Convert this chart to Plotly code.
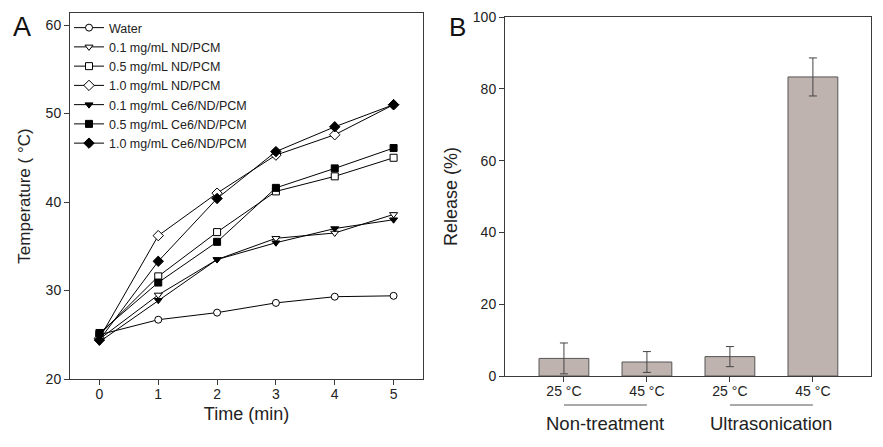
import plotly.graph_objects as go

# ---------- Data: panel A ----------
time_min = [0, 1, 2, 3, 4, 5]
water = [25.0, 26.7, 27.5, 28.6, 29.3, 29.4]
nd01 = [24.5, 29.5, 33.5, 35.9, 36.5, 38.6]
nd05 = [25.0, 31.6, 36.6, 41.2, 42.9, 45.0]
nd10 = [24.6, 36.2, 41.0, 45.3, 47.6, 51.0]
ce01 = [24.2, 28.9, 33.5, 35.4, 37.0, 38.0]
ce05 = [25.2, 30.9, 35.5, 41.6, 43.8, 46.1]
ce10 = [24.4, 33.3, 40.4, 45.7, 48.5, 51.0]

series_names = ["Water", "0.1 mg/mL ND/PCM", "0.5 mg/mL ND/PCM", "1.0 mg/mL ND/PCM",
                "0.1 mg/mL Ce6/ND/PCM", "0.5 mg/mL Ce6/ND/PCM", "1.0 mg/mL Ce6/ND/PCM"]
series_values = [water, nd01, nd05, nd10, ce01, ce05, ce10]
series_symbols = ["circle", "triangle-down", "square", "diamond",
                  "triangle-down", "square", "diamond"]
series_filled = [False, False, False, False, True, True, True]

# ---------- Data: panel B ----------
bar_labels = ["25 °C", "45 °C", "25 °C", "45 °C"]
bar_pos = [0, 1, 2, 3]
release = [4.9, 3.9, 5.4, 83.3]
release_err = [4.3, 2.9, 2.8, 5.3]
group_labels = ["Non-treatment", "Ultrasonication"]

FONT = "Liberation Sans, Arial, sans-serif"
AX = "#3a3a3a"
W, H = 883, 447
OFF = 8  # page body margin offset


def px_x(x):
    return (x - OFF) / W


def px_y(y):
    return 1 - (y - OFF) / H


fig = go.Figure()

for name, vals, sym, filled in zip(series_names, series_values, series_symbols, series_filled):
    fig.add_trace(go.Scatter(
        x=time_min, y=vals, name=name, mode="lines+markers",
        line=dict(color="black", width=1),
        marker=dict(symbol=sym, size=8 if sym == "diamond" else 7,
                    color="black" if filled else "white",
                    line=dict(color="black", width=1)),
        xaxis="x", yaxis="y", showlegend=True))

fig.add_trace(go.Bar(
    x=bar_pos, y=release, width=0.6,
    marker=dict(color="#bfb3af", line=dict(color="#555555", width=1)),
    error_y=dict(type="data", array=release_err, visible=True, color="#444444",
                 thickness=1, width=4),
    xaxis="x2", yaxis="y2", showlegend=False))

axis_common = dict(showline=True, linecolor=AX, linewidth=1, mirror=True,
                   ticks="outside", ticklen=5, tickcolor=AX, showgrid=False,
                   zeroline=False, automargin=False, ticklabeloverflow="allow",
                   tickfont=dict(size=14, color="#222"))

fig.update_layout(
    template="none",
    width=W, height=H,
    margin=dict(l=0, r=0, t=0, b=0, pad=0),
    paper_bgcolor="white", plot_bgcolor="white",
    font=dict(family=FONT, color="#222"),
    xaxis=dict(domain=[px_x(70), px_x(423)], range=[-0.5, 5.5], tickvals=time_min,
               ticklabelstandoff=-3,
               title=dict(text="Time (min)", font=dict(size=18), standoff=6),
               anchor="y", **axis_common),
    yaxis=dict(domain=[px_y(379), px_y(13)], range=[20, 61.36], tickvals=[20, 30, 40, 50, 60],
               title=dict(text="Temperature ( °C)", font=dict(size=17), standoff=10),
               anchor="x", **axis_common),
    xaxis2=dict(domain=[px_x(505), px_x(871)], range=[-0.71, 3.7], tickvals=bar_pos,
                ticktext=bar_labels, ticklabelstandoff=-3, anchor="y2", **axis_common),
    yaxis2=dict(domain=[px_y(376), px_y(17)], range=[0, 100], tickvals=[0, 20, 40, 60, 80, 100],
                title=dict(text="Release (%)", font=dict(size=18), standoff=10),
                anchor="x2", **axis_common),
    legend=dict(x=px_x(69), y=px_y(13), xanchor="left", yanchor="top",
                bgcolor="rgba(0,0,0,0)", font=dict(size=12.5, color="#222"),
                itemwidth=30, tracegroupgap=0),
    annotations=[
        dict(text="A", x=px_x(22), y=px_y(27), xref="paper", yref="paper", showarrow=False,
             font=dict(size=27, color="#111"), xanchor="center", yanchor="middle"),
        dict(text="B", x=px_x(457), y=px_y(27), xref="paper", yref="paper", showarrow=False,
             font=dict(size=26, color="#111"), xanchor="center", yanchor="middle"),
        dict(text=group_labels[0], x=0.5, y=px_y(423), xref="x2", yref="paper",
             showarrow=False, font=dict(size=18.5, color="#222"), yanchor="middle"),
        dict(text=group_labels[1], x=2.5, y=px_y(423), xref="x2", yref="paper",
             showarrow=False, font=dict(size=18.5, color="#222"), yanchor="middle"),
    ],
    shapes=[
        dict(type="line", x0=0, x1=1, xref="x2", y0=px_y(405), y1=px_y(405),
             yref="paper", line=dict(color="#555", width=1)),
        dict(type="line", x0=2, x1=3, xref="x2", y0=px_y(405), y1=px_y(405),
             yref="paper", line=dict(color="#555", width=1)),
    ],
)

fig.write_html("out.html")
